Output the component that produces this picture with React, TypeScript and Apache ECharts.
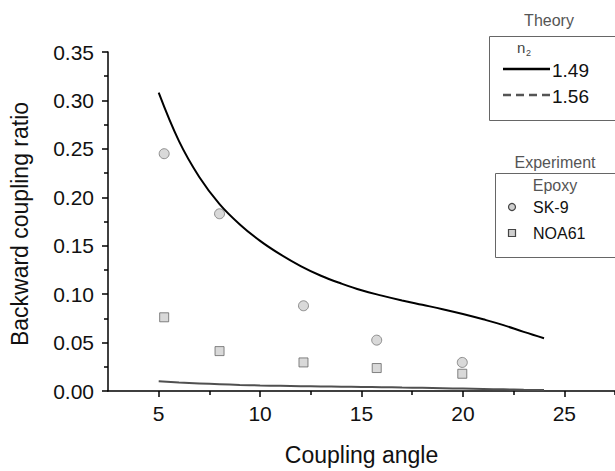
import React, { useEffect, useRef } from "react";
import * as echarts from "echarts";

const theoryX = [5, 6, 7, 8, 9, 10, 11, 12, 13, 14, 15, 16, 17, 18, 19, 20, 21, 22, 23, 24];
const theory149 = [0.308, 0.258, 0.221, 0.193, 0.172, 0.155, 0.141, 0.129, 0.119, 0.111, 0.104, 0.0985, 0.0935, 0.089, 0.0845, 0.0795, 0.074, 0.068, 0.061, 0.0545];
const theory156 = [0.0100, 0.0088, 0.0078, 0.0070, 0.0063, 0.0057, 0.0053, 0.0050, 0.0047, 0.0045, 0.0042, 0.0039, 0.0036, 0.0033, 0.0029, 0.0025, 0.0021, 0.0017, 0.0013, 0.0010];

const expX = [5.27, 8.0, 12.14, 15.75, 19.97];
const sk9 = [0.245, 0.183, 0.088, 0.0525, 0.0295];
const noa61 = [0.0761, 0.0412, 0.0295, 0.0237, 0.0178];

const xMajor = [5, 10, 15, 20, 25];
const xMinor = [7.5, 12.5, 17.5, 22.5, 27.5];

const FONT = "'Liberation Sans', Arial, sans-serif";

export default function App() {
  const ref = useRef<HTMLDivElement>(null);
  useEffect(() => {
    if (!ref.current) return;
    const chart = echarts.init(ref.current, null, { renderer: "svg" });
    const pair = (xs: number[], ys: number[]) => xs.map((x, i) => [x, ys[i]]);
    chart.setOption({
      animation: false,
      backgroundColor: "#ffffff",
      grid: { left: 108, top: 52, right: 0, bottom: 79 },
      xAxis: [
        {
          type: "value",
          min: 2.5,
          max: 27.5,
          position: "bottom",
          name: "Coupling angle",
          nameLocation: "middle",
          nameGap: 52,
          nameTextStyle: { fontFamily: FONT, fontSize: 23, color: "#111" },
          axisLine: { show: true, onZero: false, lineStyle: { color: "#000", width: 1.5 } },
          axisTick: { show: true, inside: false, length: 6, customValues: xMajor, lineStyle: { color: "#000", width: 1.5 } },
          axisLabel: { show: true, customValues: xMajor, fontFamily: FONT, fontSize: 21, color: "#111", margin: 12 },
          splitLine: { show: false },
        },
        {
          type: "value",
          min: 2.5,
          max: 27.5,
          position: "bottom",
          axisLine: { show: false },
          axisTick: { show: true, inside: false, length: 4, customValues: xMinor, lineStyle: { color: "#000", width: 1.5 } },
          axisLabel: { show: false },
          splitLine: { show: false },
        },
      ],
      yAxis: {
        type: "value",
        min: 0,
        max: 0.35,
        interval: 0.05,
        axisLine: { show: true, lineStyle: { color: "#000", width: 1.5 } },
        axisTick: { show: true, inside: false, length: 6, lineStyle: { color: "#000", width: 1.5 } },
        minorTick: { show: true, splitNumber: 2, length: 4, lineStyle: { color: "#000", width: 1.5 } },
        axisLabel: { fontFamily: FONT, fontSize: 21, color: "#111", margin: 14, formatter: (v: number) => v.toFixed(2) },
        splitLine: { show: false },
      },
      series: [
        {
          type: "line",
          data: pair(theoryX, theory149),
          smooth: 0.4,
          showSymbol: false,
          lineStyle: { color: "#000", width: 2 },
        },
        {
          type: "line",
          data: pair(theoryX, theory156),
          smooth: true,
          showSymbol: false,
          lineStyle: { color: "#505050", width: 2 },
        },
        {
          type: "scatter",
          data: pair(expX, sk9),
          symbol: "circle",
          symbolSize: 10,
          itemStyle: { color: "#cfcfcf", borderColor: "#777", borderWidth: 1 },
        },
        {
          type: "scatter",
          data: pair(expX, noa61),
          symbol: "rect",
          symbolSize: 9,
          itemStyle: { color: "#cfcfcf", borderColor: "#666", borderWidth: 1 },
        },
      ],
      graphic: [
        { type: "text", x: 20, y: 224, rotation: Math.PI / 2, style: { text: "Backward coupling ratio", fontFamily: FONT, fontSize: 23, fill: "#111", align: "center", verticalAlign: "middle" } },

        { type: "text", x: 549, y: 20, style: { text: "Theory", fontFamily: FONT, fontSize: 16, fill: "#555", align: "center", verticalAlign: "middle" } },
        { type: "rect", shape: { x: 489.5, y: 36.5, width: 130, height: 84 }, style: { fill: "none", stroke: "#666", lineWidth: 1 } },
        { type: "text", x: 517, y: 47, style: { text: "n", fontFamily: FONT, fontSize: 15, fill: "#444", verticalAlign: "middle" } },
        { type: "text", x: 526, y: 53, style: { text: "2", fontFamily: FONT, fontSize: 9, fill: "#444", verticalAlign: "middle" } },
        { type: "line", shape: { x1: 503, y1: 69, x2: 550, y2: 69 }, style: { stroke: "#000", lineWidth: 2.5 } },
        { type: "text", x: 552, y: 70, style: { text: "1.49", fontFamily: FONT, fontSize: 19, fill: "#111", verticalAlign: "middle" } },
        { type: "line", shape: { x1: 503, y1: 95, x2: 550, y2: 95 }, style: { stroke: "#555", lineWidth: 2.5, lineDash: [8, 5] } },
        { type: "text", x: 552, y: 96, style: { text: "1.56", fontFamily: FONT, fontSize: 19, fill: "#111", verticalAlign: "middle" } },

        { type: "text", x: 555, y: 162, style: { text: "Experiment", fontFamily: FONT, fontSize: 16, fill: "#555", align: "center", verticalAlign: "middle" } },
        { type: "rect", shape: { x: 495.5, y: 173.5, width: 125, height: 84 }, style: { fill: "none", stroke: "#666", lineWidth: 1 } },
        { type: "text", x: 555, y: 185, style: { text: "Epoxy", fontFamily: FONT, fontSize: 16, fill: "#555", align: "center", verticalAlign: "middle" } },
        { type: "circle", shape: { cx: 512, cy: 207, r: 3.5 }, style: { fill: "#cfcfcf", stroke: "#444", lineWidth: 1.2 } },
        { type: "text", x: 533, y: 207, style: { text: "SK-9", fontFamily: FONT, fontSize: 16, fill: "#111", verticalAlign: "middle" } },
        { type: "rect", shape: { x: 508.5, y: 229.5, width: 7, height: 7 }, style: { fill: "#cfcfcf", stroke: "#444", lineWidth: 1.2 } },
        { type: "text", x: 533, y: 233, style: { text: "NOA61", fontFamily: FONT, fontSize: 16, fill: "#111", verticalAlign: "middle" } },
      ],
    });
    return () => chart.dispose();
  }, []);
  return <div ref={ref} style={{ width: 615, height: 471, position: "absolute", left: 0, top: 0 }} />;
}
